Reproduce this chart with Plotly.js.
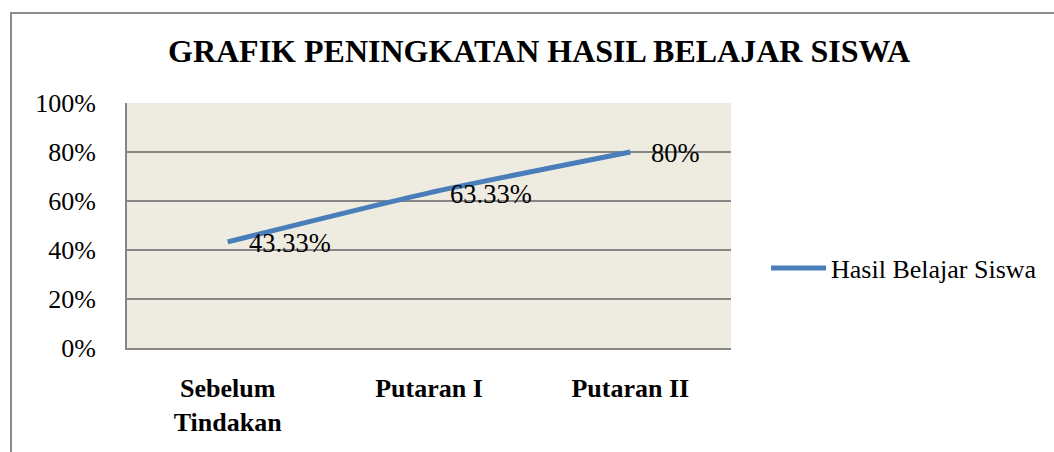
<!DOCTYPE html>
<html>
<head>
<meta charset="utf-8">
<script src="https://cdn.plot.ly/plotly-3.0.1.min.js"></script>
<style>
  html, body { margin: 0; padding: 0; background: #ffffff; overflow: hidden; }
  #wrap { position: relative; width: 1054px; height: 452px; }
  #chart { position: absolute; left: 0; top: 0; width: 1054px; height: 452px; }
  #frame { position: absolute; left: 10px; top: 12px; width: 1100px; height: 500px;
           border-left: 2px solid #8c8c8c; border-top: 2px solid #8c8c8c; pointer-events: none; }
</style>
</head>
<body>
<div id="wrap">
  <div id="chart"></div>
  <div id="frame"></div>
</div>
<script>
// ---- data ----
const categories = ['Sebelum Tindakan', 'Putaran I', 'Putaran II'];
const categoryLabels = ['Sebelum<br>Tindakan', 'Putaran I', 'Putaran II'];
const values = [43.33, 63.33, 80];
const valueLabels = ['43.33%', '63.33%', '80%'];
const seriesName = 'Hasil Belajar Siswa';
const chartTitle = 'GRAFIK PENINGKATAN HASIL BELAJAR SISWA';
const yTicks = [0, 20, 40, 60, 80, 100];
const yTickLabels = ['0%', '20%', '40%', '60%', '80%', '100%'];

const serif = '"Liberation Serif", "Times New Roman", Times, serif';

const trace = {
  x: categories,
  y: values,
  type: 'scatter',
  mode: 'lines',
  name: seriesName,
  line: { color: '#4A7EBB', width: 5, shape: 'spline', smoothing: 0.6 },
  hoverinfo: 'skip'
};

const annotations = categories.map((c, i) => ({
  x: c, y: values[i], xref: 'x', yref: 'y',
  text: valueLabels[i], showarrow: false,
  xanchor: 'left', yanchor: 'middle', xshift: 19, yshift: -1,
  font: { family: serif, size: 26.5, color: '#000000' }
}));

const layout = {
  width: 1054, height: 452,
  margin: { l: 127, r: 323, t: 103, b: 104, pad: 0, autoexpand: false },
  paper_bgcolor: '#ffffff',
  plot_bgcolor: '#EEECE1',
  font: { family: serif, size: 26, color: '#000000' },
  title: {
    text: '<b>' + chartTitle + '</b>',
    font: { family: serif, size: 32, color: '#000000' },
    x: 0.5114, xanchor: 'center', xref: 'container',
    y: 0.887, yanchor: 'middle', yref: 'container'
  },
  showlegend: true,
  legend: {
    xref: 'container', yref: 'container',
    x: 0.7268, xanchor: 'left', y: 1 - 268 / 452, yanchor: 'middle',
    font: { family: serif, size: 26, color: '#000000' },
    bgcolor: 'rgba(0,0,0,0)', itemwidth: 55
  },
  xaxis: {
    type: 'category',
    range: [-0.5, 2.5],
    tickmode: 'array', tickvals: categories, ticktext: categoryLabels.map(t => '<b>' + t + '</b>'),
    tickfont: { family: serif, size: 26, color: '#000000' },
    showgrid: false, zeroline: false,
    showline: true, linecolor: '#868686', linewidth: 2,
    ticks: '', ticklabelstandoff: 16, fixedrange: true
  },
  yaxis: {
    range: [0, 100],
    tickmode: 'array', tickvals: yTicks, ticktext: yTickLabels,
    tickfont: { family: serif, size: 26, color: '#000000' },
    showgrid: true, gridcolor: '#868686', gridwidth: 1.5,
    zeroline: false,
    showline: true, linecolor: '#868686', linewidth: 2,
    ticks: '', ticklabelstandoff: 24, fixedrange: true
  },
  annotations: annotations
};

Plotly.newPlot('chart', [trace], layout, { displayModeBar: false, staticPlot: true });
</script>
</body>
</html>
